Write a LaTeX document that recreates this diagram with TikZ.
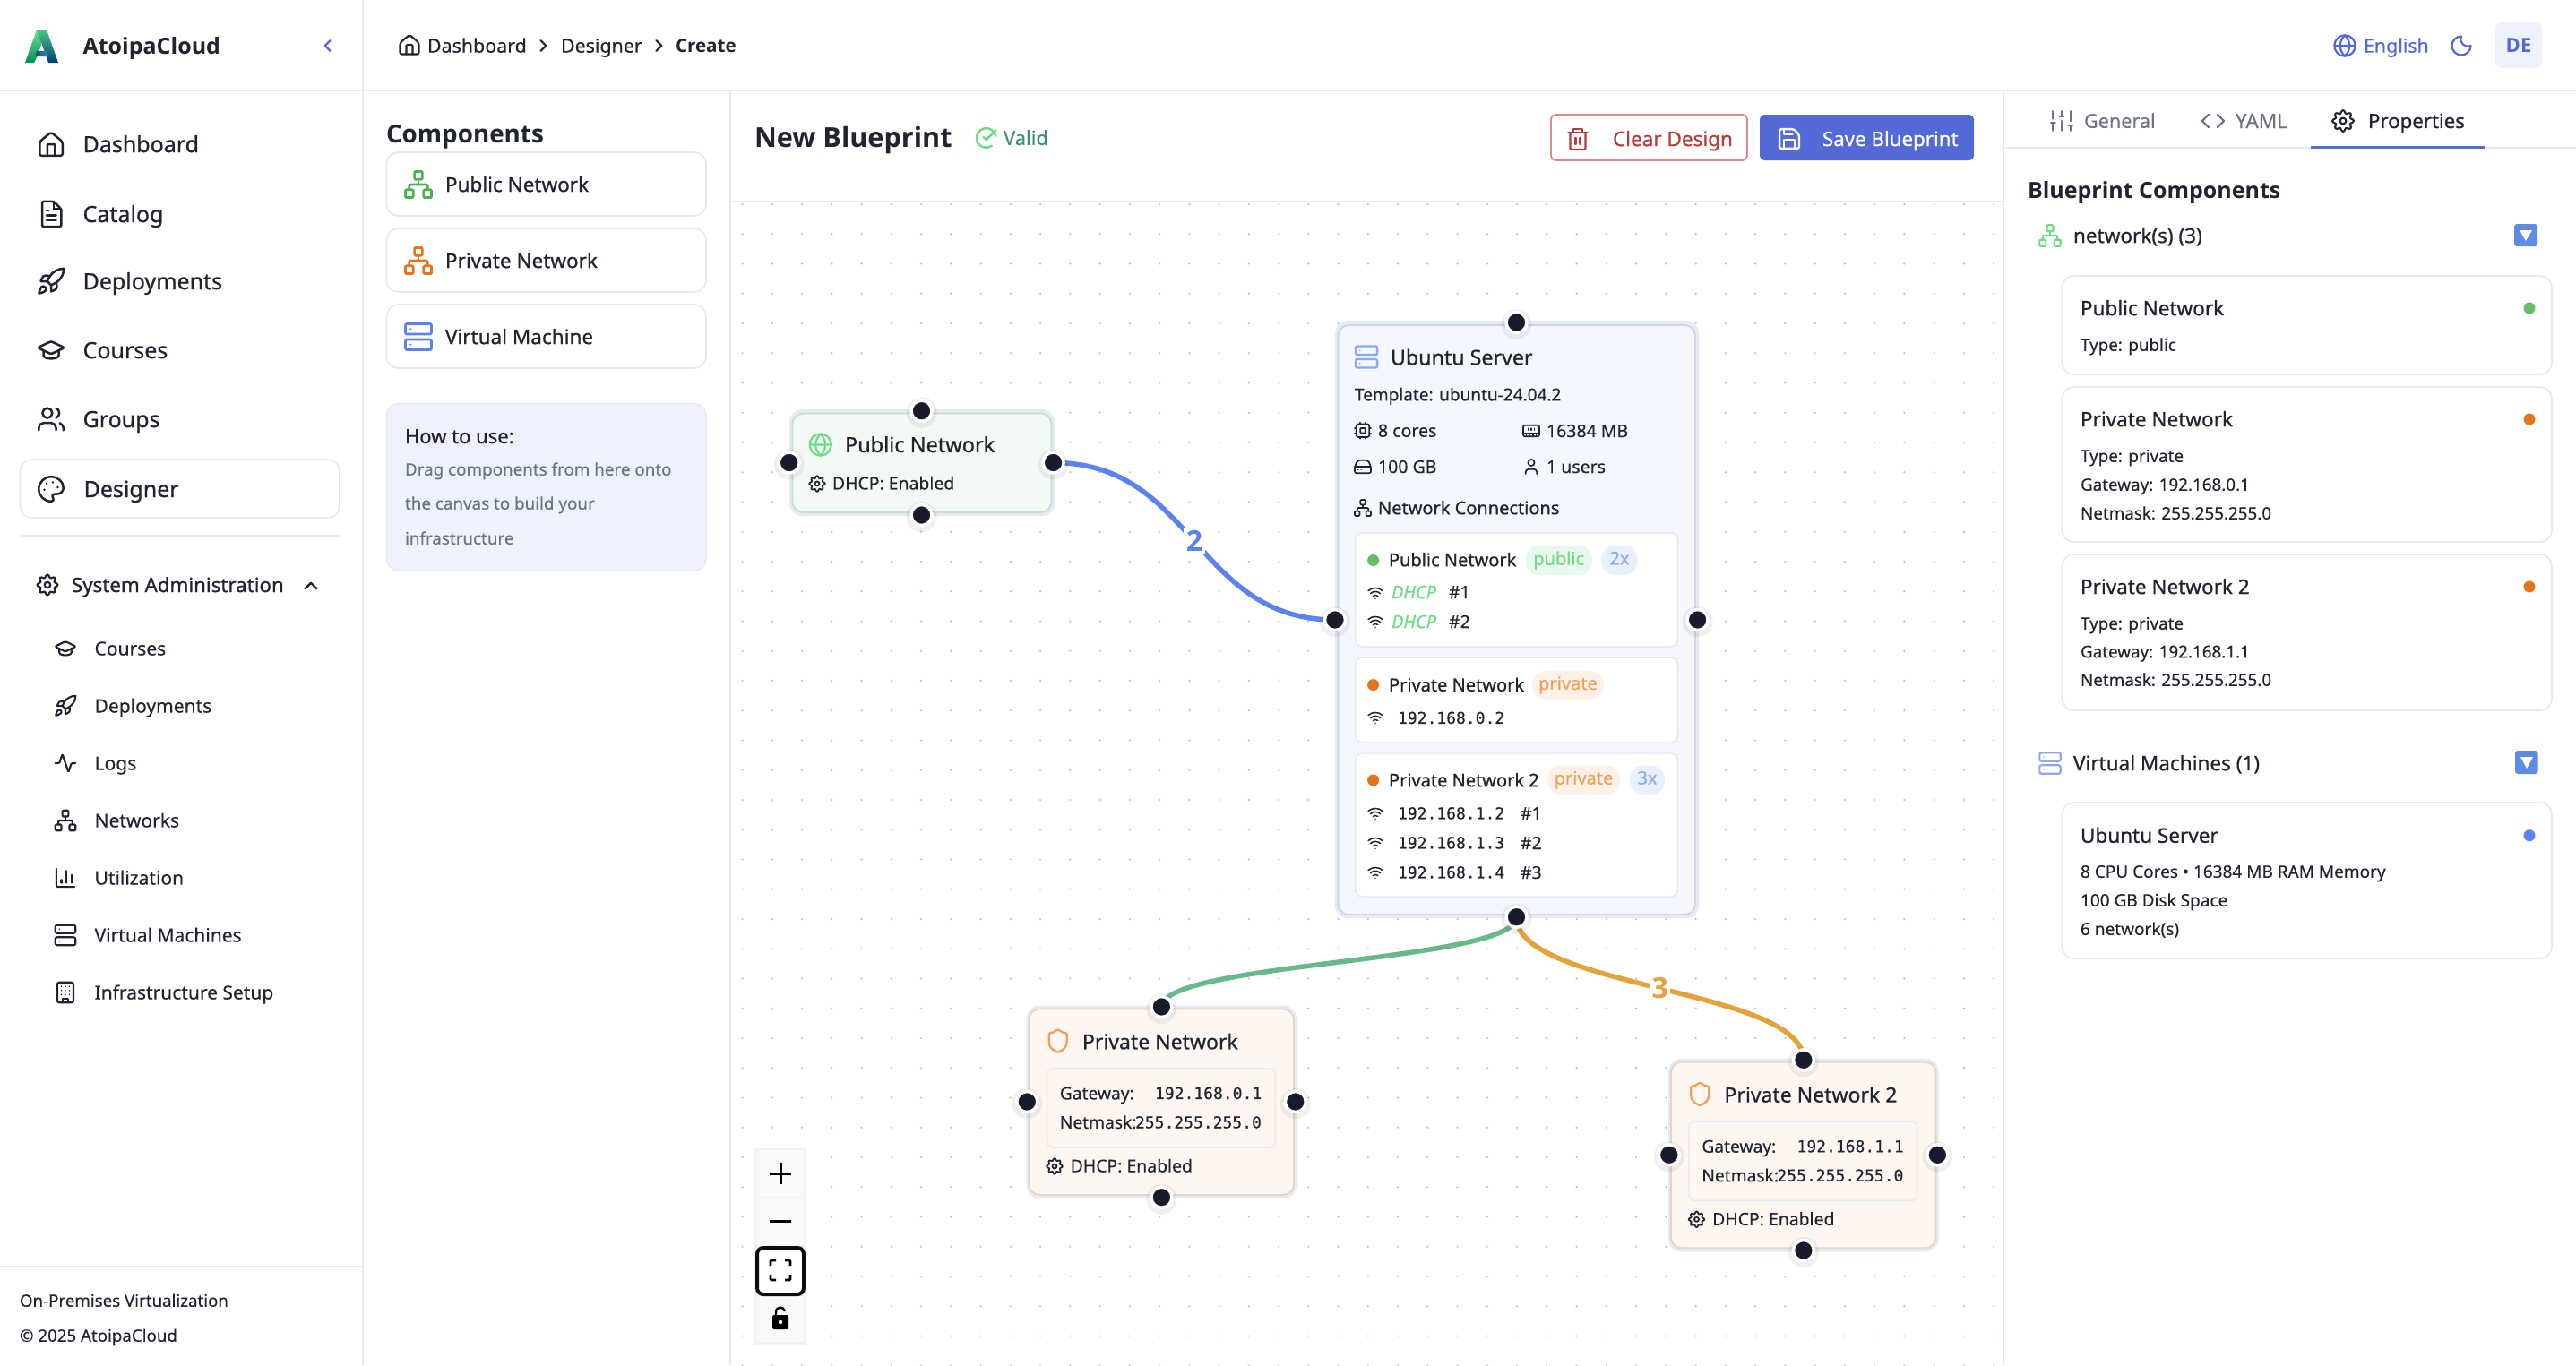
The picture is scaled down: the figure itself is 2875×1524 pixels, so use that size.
\documentclass[tikz,border=0pt]{standalone}
\usepackage{fontspec}
\usetikzlibrary{calc}
\setmainfont{Noto Sans}[FakeBold=0.15]
\newfontfamily\medf{Noto Sans}[FakeBold=0.7]
\newfontfamily\boldf{Open Sans}
\newfontfamily\monof{DejaVu Sans Mono}[FakeBold=0.3]
\definecolor{ink}{HTML}{1F2430}
\definecolor{navy}{HTML}{1A1A2E}
\definecolor{gtxt}{HTML}{6B7280}
\definecolor{line}{HTML}{E5E8EF}
\definecolor{brand}{HTML}{5369D6}
\definecolor{blueE}{HTML}{5B82EE}
\definecolor{greenI}{HTML}{4CAF50}
\definecolor{greenL}{HTML}{6FDB82}
\definecolor{orangeI}{HTML}{E8741A}
\definecolor{orangeL}{HTML}{F0A05A}
\definecolor{halo}{HTML}{E6EAF2}
\definecolor{dotc}{HTML}{BEC2CA}
\definecolor{ubfill}{HTML}{F4F7FE}
\definecolor{ubline}{HTML}{C9D6EE}
\definecolor{howfill}{HTML}{EEF2FC}
\definecolor{pubfill}{HTML}{F3FAF5}
\definecolor{publine}{HTML}{C8DFCC}
\definecolor{prvfill}{HTML}{FDF6F1}
\definecolor{prvline}{HTML}{E8D4C6}
\definecolor{pillG}{HTML}{E8F8EC}
\definecolor{pillB}{HTML}{E8EFFD}
\definecolor{pillO}{HTML}{FDF0E6}
\definecolor{redT}{HTML}{B83A3A}
\definecolor{redL}{HTML}{E08A85}
\definecolor{validT}{HTML}{3F8F6F}
\definecolor{edgeG}{HTML}{68B98A}
\definecolor{edgeO}{HTML}{E2A33A}
\definecolor{btnB}{HTML}{5F8AE6}
\pgfdeclarelayer{griddots}
\pgfdeclarelayer{edgelayer}
\pgfsetlayers{griddots,edgelayer,main}
\tikzset{
  txt/.style={inner sep=0pt,outer sep=0pt,anchor=base west,text=ink},
  panelbox/.style={inner sep=0pt,outer sep=0pt,draw=line,line width=1.6pt,fill=white,rounded corners=13pt},
  hdl/.style={circle,inner sep=0pt,minimum size=23pt,fill=navy,draw=white,line width=3.5pt},
  hdlshadow/.style={circle,inner sep=0pt,minimum size=34pt,fill=black,opacity=0.06},
  subcard/.style={inner sep=0pt,outer sep=0pt,draw=#1,line width=1.5pt,fill=white,rounded corners=8pt},
  pillbox/.style={inner sep=0pt,outer sep=0pt,fill=#1,rounded corners=15pt},
  edgeln/.style={line width=5.5pt},
  edgelbl/.style={font=\boldf\bfseries,fill=white,inner sep=2.5pt},
  bf/.style={font=\boldf\bfseries},
}
\newcommand\tx[6][]{\node[txt,#1] (#2) at (#3,{#4+0.36*#5}) {\fontsize{#5}{#5}\selectfont #6};}
\newcommand\bx[7][]{\node[minimum width={(#5-#3)*1pt},minimum height={(#6-#4)*1pt},#1] (#2) at ({(#3+#5)/2},{(#4+#6)/2}) {#7};}
\newcommand\hd[3]{\node[hdlshadow] at (#2,{#3+2}) {};\node[hdl] (#1) at (#2,#3) {};}
\newcommand\ic[6]{\pgfmathsetmacro\icu{#4/24}\begin{scope}[shift={(#2-#4/2,#3-#4/2)},x=\icu pt,y=-\icu pt,color=#5,line width=#6pt,line cap=round,line join=round]#1\end{scope}}
\newcommand\iHome{\draw[rounded corners=2pt] (3,10)--(12,2.5)--(21,10)--(21,21)--(3,21)--cycle; \draw[rounded corners=1pt] (9,21)--(9,12)--(15,12)--(15,21);}
\newcommand\iFile{\draw[rounded corners=2pt] (14,2)--(5,2)--(5,22)--(20,22)--(20,8)--cycle; \draw (14,2)--(14,8)--(20,8) (8.5,13)--(16,13) (8.5,17)--(16,17) (8.5,9)--(10,9);}
\newcommand\iRocket{\draw (4.5,16.5) .. controls (3,17.76) and (2.5,21.5) .. (2.5,21.5) .. controls (2.5,21.5) and (6.24,21) .. (7.5,19.5) .. controls (8.21,18.66) and (8.2,17.37) .. (7.41,16.59) .. controls (6.6,15.8) and (5.3,15.8) .. cycle; \draw (12,15)--(9,12) .. controls (9.5,10.6) and (10.2,9.3) .. (11,8.05) .. controls (13.2,4.5) and (17.8,2) .. (22,2) .. controls (22,4.72) and (21.22,9.5) .. (16,13) .. controls (14.8,13.8) and (13.4,14.5) .. (12,15) -- cycle; \draw (9,12)--(4,12) .. controls (4,12) and (4.55,8.97) .. (6,8) .. controls (7.62,6.92) and (11,8) .. (11,8); \draw (12,15)--(12,20) .. controls (12,20) and (15.03,19.45) .. (16,18) .. controls (17.08,16.38) and (16,13) .. (16,13);}
\newcommand\iCap{\draw[rounded corners=1.5pt] (1.5,10)--(12,5)--(22.5,10)--(12,15)--cycle; \draw (6,12.5)--(6,16) .. controls (6,19.5) and (18,19.5) .. (18,16)--(18,12.5);}
\newcommand\iUsers{\draw (9,7) circle[radius=4]; \draw (16,21)--(16,19) .. controls (16,16.8) and (14.2,15) .. (12,15)--(6,15) .. controls (3.8,15) and (2,16.8) .. (2,19)--(2,21); \draw (16,3.13) .. controls (19.5,4) and (19.5,10) .. (16,10.88); \draw (22,21)--(22,19) .. controls (22,17.2) and (20.8,16.3) .. (19,15.13);}
\newcommand\iPalette{\draw (12,22) arc[start angle=90,end angle=270,radius=10] arc[start angle=270,end angle=360,x radius=10,y radius=9] arc[start angle=0,end angle=90,radius=5] -- (14.75,16) .. controls (13.3,16) and (12.4,17.7) .. (13.35,18.8) -- (13.65,19.2) .. controls (14.6,20.4) and (13.7,22) .. (12.25,22) -- cycle; \fill (13.5,6.5) circle[radius=1] (17.5,10.5) circle[radius=1] (6.5,12.5) circle[radius=1] (8.5,7.5) circle[radius=1];}
\newcommand\iGear{\draw plot[smooth cycle,domain=0:352.5,samples=48] ({12+(9.1+1.5*cos(8*\x))*cos(\x)},{12+(9.1+1.5*cos(8*\x))*sin(\x)}); \draw (12,12) circle[radius=3];}
\newcommand\iNet{\draw[rounded corners=1pt] (16,16) rectangle (22,22) (2,16) rectangle (8,22) (9,2) rectangle (15,8); \draw[rounded corners=1.2pt] (5,16)--(5,12)--(19,12)--(19,16); \draw (12,12)--(12,8);}
\newcommand\iServer{\draw[rounded corners=2pt] (2,2) rectangle (22,10) (2,14) rectangle (22,22); \fill (6,6) circle[radius=.8] (6,18) circle[radius=.8];}
\newcommand\iGlobe{\draw (12,12) circle[radius=10] (2,12)--(22,12); \draw (12,2) .. controls (6,8) and (6,16) .. (12,22) .. controls (18,16) and (18,8) .. (12,2);}
\newcommand\iShield{\draw (20,13) .. controls (20,18) and (16.5,20.5) .. (12.34,21.95) .. controls (12.1,22) and (11.9,22) .. (11.67,21.94) .. controls (7.5,20.5) and (4,18) .. (4,13) -- (4,6) .. controls (4,5.4) and (4.4,5) .. (5,5) .. controls (7,5) and (9.5,3.8) .. (11.24,2.28) .. controls (11.7,1.9) and (12.3,1.9) .. (12.76,2.28) .. controls (14.51,3.81) and (17,5) .. (19,5) .. controls (19.6,5) and (20,5.4) .. (20,6) -- cycle;}
\newcommand\iPulse{\draw[rounded corners=1pt] (22,12)--(18,12)--(15,21)--(9,3)--(6,12)--(2,12);}
\newcommand\iChart{\draw[rounded corners=2pt] (3,3)--(3,21)--(21,21); \draw (18,17)--(18,9) (13,17)--(13,5) (8,17)--(8,14);}
\newcommand\iBuild{\draw[rounded corners=2pt] (4,2) rectangle (20,22); \draw (9,22)--(9,18)--(15,18)--(15,22); \fill (8,6) circle[radius=.8] (12,6) circle[radius=.8] (16,6) circle[radius=.8] (8,10) circle[radius=.8] (12,10) circle[radius=.8] (16,10) circle[radius=.8] (8,14) circle[radius=.8] (12,14) circle[radius=.8] (16,14) circle[radius=.8];}
\newcommand\iSliders{\draw (4,21)--(4,14) (4,10)--(4,3) (12,21)--(12,12) (12,8)--(12,3) (20,21)--(20,16) (20,12)--(20,3) (2,14)--(6,14) (10,8)--(14,8) (18,16)--(22,16);}
\newcommand\iCode{\draw (16,18)--(22,12)--(16,6) (8,6)--(2,12)--(8,18);}
\newcommand\iMoon{\draw (12,3) arc[start angle=270,end angle=0,radius=9] .. controls (16.5,15) and (9,9) .. (12,3) -- cycle;}
\newcommand\iCheck{\draw (21.8,10) arc[start angle=-11.5,end angle=-305,radius=10]; \draw (9,11)--(12,14)--(22,4);}
\newcommand\iTrash{\draw (3,6)--(21,6) (8,6)--(8,3)--(16,3)--(16,6) (10,11)--(10,17) (14,11)--(14,17); \draw[rounded corners=2pt] (5,6)--(5,22)--(19,22)--(19,6);}
\newcommand\iSave{\draw[rounded corners=1.5pt] (3,3)--(16,3)--(21,8)--(21,21)--(3,21)--cycle; \draw (17,21)--(17,13)--(7,13)--(7,21) (7,3)--(7,8)--(15,8);}
\newcommand\iCpu{\draw[rounded corners=2pt] (4,4) rectangle (20,20); \draw[rounded corners=.5pt] (9,9) rectangle (15,15); \draw (15,2)--(15,4) (15,20)--(15,22) (2,15)--(4,15) (2,9)--(4,9) (20,15)--(22,15) (20,9)--(22,9) (9,2)--(9,4) (9,20)--(9,22);}
\newcommand\iMem{\draw[rounded corners=2pt] (2,5) rectangle (22,19); \draw (2,15)--(22,15) (6,19)--(6,16) (10,19)--(10,16) (14,19)--(14,16) (18,19)--(18,16) (8,11)--(8,9) (12,11)--(12,9) (16,11)--(16,9);}
\newcommand\iDisk{\draw[rounded corners=2pt] (2,12)--(5.5,4)--(18.5,4)--(22,12)--(22,20)--(2,20)--cycle; \draw (2,12)--(22,12) (6,16)--(6.01,16) (10,16)--(10.01,16);}
\newcommand\iUser{\draw (12,7) circle[radius=4]; \draw (19,21)--(19,19) .. controls (19,16.8) and (17.2,15) .. (15,15)--(9,15) .. controls (6.8,15) and (5,16.8) .. (5,19)--(5,21);}
\newcommand\iWifi{\draw (2,8.82) .. controls (7.7,3.7) and (16.3,3.7) .. (22,8.82) (5,12.86) .. controls (9,9) and (15,9) .. (19,12.86) (8.5,16.43) .. controls (10.5,14.5) and (13.5,14.5) .. (15.5,16.43) (12,20)--(12.01,20);}
\newcommand\iChevL{\draw (15,5)--(8,12)--(15,19);}
\newcommand\iChevR{\draw (9,5)--(16,12)--(9,19);}
\newcommand\iChevU{\draw (5,15.5)--(12,8.5)--(19,15.5);}
\begin{document}
\begin{tikzpicture}[x=1pt,y=-1pt,line cap=butt]
\useasboundingbox (0,0) rectangle (2875,1524);
% ---- canvas dots
\begin{pgfonlayer}{griddots}
\fill[white] (0,0) rectangle (2875,1524);
\fill[dotc] \foreach \i in {0,...,42} { \foreach \j in {0,...,39} { ({828.6+33.25*\i},{228+33.25*\j}) circle[radius=1.15pt] } };
\end{pgfonlayer}
% ---- frame lines
\draw[line,line width=1.6pt] (405,0)--(405,1524);
\draw[line,line width=1.6pt] (0,101.5)--(2875,101.5);
\draw[line,line width=1.6pt] (0,1414)--(405,1414);
\draw[line,line width=1.6pt] (815,101.5)--(815,1524);
\draw[line,line width=1.6pt] (815,224.5)--(2236,224.5);
\draw[line,line width=1.6pt] (2236,101.5)--(2236,1524);
\draw[line,line width=2.5pt] (2236,165)--(2875,165);
\draw[brand,line width=3.5pt] (2579,164.5)--(2773,164.5);
% ---- logo
\path[shade,top color=green!55!teal!55!white,bottom color=teal!75!green!90!black] (41,33)--(52,33)--(42,62)--(38,70)--(28,70)--cycle;
\path[shade,top color=teal!60!green!70,bottom color=blue!30!teal!70!black] (41,33)--(52,33)--(65,70)--(54,70)--cycle;
\path[shade,left color=teal!70!black,right color=blue!40!teal!70] (41,57)--(52,57)--(54,63)--(39,63)--cycle;
\tx[bf]{brandname}{92.6}{51}{25}{AtoipaCloud}
\ic{\iChevL}{366}{51}{20}{brand}{2.3}
% ---- sidebar
\bx[panelbox]{navsel}{22.5}{513}{379}{578}{}
\draw[line,line width=1.5pt] (22.5,598)--(379,598);
\ic{\iHome}{57}{161}{34}{ink}{2.5}\tx[font=\medf]{navA}{92.6}{161}{25}{Dashboard}
\ic{\iFile}{57}{239}{34}{ink}{2.5}\tx[font=\medf]{navB}{92.6}{239}{25}{Catalog}
\ic{\iRocket}{57}{314}{34}{ink}{2.5}\tx[font=\medf]{navC}{92.6}{314}{25}{Deployments}
\ic{\iCap}{57}{391}{34}{ink}{2.5}\tx[font=\medf]{navD}{92.6}{391}{25}{Courses}
\ic{\iUsers}{57}{468}{33}{ink}{2.5}\tx[font=\medf]{navE}{92.6}{468}{25}{Groups}
\ic{\iPalette}{57}{546}{33}{ink}{2.5}\tx[font=\medf]{navF}{93.6}{546}{25}{Designer}
\ic{\iGear}{53}{653}{26}{ink}{2.2}\tx[font=\medf]{navG}{80}{653}{22.3}{System Administration}
\ic{\iChevU}{347}{654}{22}{ink}{2.4}
\ic{\iCap}{73}{724}{27}{ink}{2.1}\tx{subA}{105.6}{724}{21}{Courses}
\ic{\iRocket}{73}{788}{27}{ink}{2.1}\tx{subB}{105.6}{788}{21}{Deployments}
\ic{\iPulse}{73}{852}{27}{ink}{2.1}\tx{subC}{105.6}{852}{21}{Logs}
\ic{\iNet}{73}{916}{27}{ink}{2.1}\tx{subD}{105.6}{916}{21}{Networks}
\ic{\iChart}{73}{980}{27}{ink}{2.1}\tx{subE}{105.6}{980}{21}{Utilization}
\ic{\iServer}{73}{1044}{27}{ink}{2.1}\tx{subF}{105.6}{1044}{21}{Virtual Machines}
\ic{\iBuild}{73}{1108}{27}{ink}{2.1}\tx{subG}{105.6}{1108}{21}{Infrastructure Setup}
\tx{footA}{22}{1452}{18.7}{On-Premises Virtualization}
\tx{footB}{22}{1491}{18.7}{© 2025 AtoipaCloud}
% ---- breadcrumb
\ic{\iHome}{457}{50}{28}{ink}{2.1}\tx{crA}{477}{51}{21.4}{Dashboard}
\ic{\iChevR}{606}{51}{20}{ink}{2.2}\tx{crB}{626}{51}{21.4}{Designer}
\ic{\iChevR}{735}{51}{20}{ink}{2.2}\tx[bf]{crC}{754}{51}{20.6}{Create}
% ---- components
\tx[bf]{compT}{431}{149}{27.8}{Components}
\bx[panelbox]{cardA}{431.5}{170}{788}{241}{}
\bx[panelbox]{cardB}{431.5}{255}{788}{326}{}
\bx[panelbox]{cardC}{431.5}{340}{788}{411}{}
\ic{\iNet}{467}{206}{35}{greenI}{2.7}\tx[font=\medf]{cardAt}{497}{206}{22.5}{Public Network}
\ic{\iNet}{467}{291}{35}{orangeI}{2.7}\tx[font=\medf]{cardBt}{497}{291}{22.5}{Private Network}
\ic{\iServer}{467}{376}{35}{blueE}{2.7}\tx[font=\medf]{cardCt}{497}{376}{22.5}{Virtual Machine}
\bx[inner sep=0pt,fill=howfill,draw=line,line width=1.2pt,rounded corners=13pt]{howto}{431.5}{450.5}{788}{637}{}
\tx[font=\medf]{howT}{452}{487}{22}{How to use:}
\tx[text=gtxt]{howA}{452}{524}{18.8}{Drag components from here onto}
\tx[text=gtxt]{howB}{452}{562}{18.8}{the canvas to build your}
\tx[text=gtxt]{howC}{452}{601}{18.8}{infrastructure}
% ---- title bar
\tx[bf]{title}{842}{153}{30.6}{New Blueprint}
\ic{\iCheck}{1100.7}{154}{26}{greenL}{2.4}
\tx[text=validT]{valid}{1120}{154}{22}{Valid}
\bx[inner sep=0pt,draw=redL,fill=white,line width=1.8pt,rounded corners=5pt]{clr}{1731}{128}{1950}{179}{}
\ic{\iTrash}{1761}{155}{29}{redT}{2.3}
\tx[font=\medf,text=redT]{clrT}{1800}{155}{22.5}{Clear Design}
\bx[inner sep=0pt,fill=brand,rounded corners=5pt]{sav}{1964}{128}{2203}{179}{}
\ic{\iSave}{1997}{155}{29}{white}{2.3}
\tx[font=\medf,text=white]{savT}{2034}{155}{22.3}{Save Blueprint}
% ---- top right
\ic{\iGlobe}{2617}{51}{28}{brand}{2.2}\tx[text=brand]{lang}{2638}{51}{21.4}{English}
\ic{\iMoon}{2747}{51}{28}{brand}{2.2}
\bx[inner sep=0pt,fill=howfill,rounded corners=7pt]{debox}{2785}{25}{2837}{76}{}
\tx[bf,text=brand,anchor=base]{deT}{2811}{51}{22}{DE}
% ---- tabs
\ic{\iSliders}{2301}{135}{29}{gtxt}{2.1}\tx[text=gtxt]{tabA}{2326}{135}{21.6}{General}
\ic{\iCode}{2470}{135}{29}{gtxt}{2.1}\tx[text=gtxt]{tabB}{2495}{135}{22.5}{YAML}
\ic{\iGear}{2615}{135}{27}{ink}{2.1}\tx[font=\medf]{tabC}{2643}{135}{22.2}{Properties}
% ---- right panel
\tx[bf]{bpT}{2263}{212}{25}{Blueprint Components}
\ic{\iNet}{2288}{263}{28}{greenL}{2.2}\tx[font=\medf]{bpN}{2314}{263}{22.5}{network(s) (3)}
\bx[inner sep=0pt,fill=btnB,rounded corners=3pt]{btnA}{2806}{250}{2832}{275}{}
\fill[white] (2812,257)--(2826,257)--(2819,269)--cycle;
\bx[panelbox]{rA}{2301.5}{308}{2848}{418}{}
\bx[panelbox]{rB}{2301.5}{432}{2848}{605}{}
\bx[panelbox]{rC}{2301.5}{619}{2848}{793}{}
\bx[panelbox]{rD}{2301.5}{896}{2848}{1070}{}
\tx[font=\medf]{rAt}{2322}{344}{22.5}{Public Network}
\tx{rAa}{2322}{385}{18.8}{Type: public}
\fill[greenI!85!white] (2823,344) circle[radius=6.5pt];
\tx[font=\medf]{rBt}{2322}{468}{22.5}{Private Network}
\tx{rBa}{2322}{509}{18.8}{Type: private}
\tx{rBb}{2322}{541}{18.8}{Gateway: 192.168.0.1}
\tx{rBc}{2322}{573}{18.8}{Netmask: 255.255.255.0}
\fill[orangeI] (2823,468) circle[radius=6.5pt];
\tx[font=\medf]{rCt}{2322}{655}{22.5}{Private Network 2}
\tx{rCa}{2322}{696}{18.8}{Type: private}
\tx{rCb}{2322}{727.5}{18.8}{Gateway: 192.168.1.1}
\tx{rCc}{2322}{759}{18.8}{Netmask: 255.255.255.0}
\fill[orangeI] (2823,655) circle[radius=6.5pt];
\ic{\iServer}{2288}{852}{28}{blueE!70!white}{2.2}\tx[font=\medf]{bpV}{2314}{852}{22.5}{Virtual Machines (1)}
\bx[inner sep=0pt,fill=btnB,rounded corners=3pt]{btnBb}{2807}{838}{2832.5}{864}{}
\fill[white] (2813,845)--(2827,845)--(2820,858)--cycle;
\tx[font=\medf]{rDt}{2322}{932.7}{22.5}{Ubuntu Server}
\tx{rDa}{2322}{973}{19}{8 CPU Cores • 16384 MB RAM Memory}
\tx{rDb}{2322}{1005}{19}{100 GB Disk Space}
\tx{rDc}{2322}{1037}{19}{6 network(s)}
\fill[blueE] (2823,932.7) circle[radius=6.5pt];
% ---- Public Network node
\bx[inner sep=0pt,fill=halo,rounded corners=14pt]{pubH}{881}{457}{1177}{576}{}
\bx[inner sep=0pt,fill=pubfill,draw=publine,line width=1.8pt,rounded corners=12pt]{pubB}{884.5}{461.5}{1173.5}{572}{}
\ic{\iGlobe}{915.7}{496.5}{29}{greenL}{2.2}
\tx[font=\medf]{pubTt}{943}{496.5}{23.5}{Public Network}
\ic{\iGear}{912}{540}{20}{ink}{1.8}
\tx{pubDh}{929}{539.5}{19.4}{DHCP: Enabled}
\hd{pubT}{1028.5}{458.7}\hd{pubL}{880.7}{516.5}\hd{pubR}{1175.6}{516.5}\hd{pubD}{1028.5}{575}
% ---- Ubuntu node
\bx[inner sep=0pt,fill=halo,rounded corners=14pt]{ubH}{1490}{358}{1896}{1025}{}
\bx[inner sep=0pt,fill=ubfill,draw=ubline,line width=1.8pt,rounded corners=12pt]{ubB}{1493.5}{363}{1892}{1021}{}
\ic{\iServer}{1525}{398.5}{29}{blueE!70!white}{2.3}
\tx[font=\medf]{ubTt}{1552}{399}{23.2}{Ubuntu Server}
\tx{ubTp}{1512}{440.5}{19}{Template: ubuntu-24.04.2}
\ic{\iCpu}{1521}{480.7}{21.6}{ink}{1.7}\tx{ubC}{1538}{480.7}{19.5}{8 cores}
\ic{\iMem}{1709}{481}{21.6}{ink}{1.7}\tx{ubM}{1726}{481}{19.5}{16384 MB}
\ic{\iDisk}{1521}{521}{21.6}{ink}{1.7}\tx{ubD}{1538}{521}{19.5}{100 GB}
\ic{\iUser}{1709}{521}{21.6}{ink}{1.7}\tx{ubU}{1726}{521}{19.5}{1 users}
\ic{\iNet}{1521}{567}{21.6}{ink}{1.7}\tx[font=\medf]{ubNc}{1538}{567}{20}{Network Connections}
\bx[subcard=line]{scA}{1512.6}{595}{1872.5}{722}{}
\bx[subcard=line]{scB}{1512.6}{734}{1872.5}{829}{}
\bx[subcard=line]{scC}{1512.6}{841}{1872.5}{1001}{}
\fill[greenI!85!white] (1532.6,625.5) circle[radius=6.5pt];
\tx[font=\medf]{scAt}{1550}{625}{20}{Public Network}
\bx[pillbox=pillG]{pA}{1702.5}{609}{1777}{642}{\fontsize{20}{20}\selectfont\color{greenL}\vphantom{Ap}public}
\bx[pillbox=pillB]{pB}{1787.5}{609}{1827.5}{642}{\fontsize{20}{20}\selectfont\color{blueE!70!white}\vphantom{Ap}2x}
\ic{\iWifi}{1535}{662}{19}{ink}{1.5}\tx[font=\itshape,text=greenL]{dhA}{1553}{661}{20}{DHCP}\tx{dhAn}{1617}{661}{19.5}{\#1}
\ic{\iWifi}{1535}{694}{19}{ink}{1.5}\tx[font=\itshape,text=greenL]{dhB}{1553}{694}{20}{DHCP}\tx{dhBn}{1617}{694}{19.5}{\#2}
\fill[orangeI] (1532.6,764.6) circle[radius=6.5pt];
\tx[font=\medf]{scBt}{1550}{764.6}{20}{Private Network}
\bx[pillbox=pillO]{pC}{1710}{749}{1790}{781}{\fontsize{20}{20}\selectfont\color{orangeL}\vphantom{Ap}private}
\ic{\iWifi}{1535}{801}{19}{ink}{1.5}\tx[font=\monof]{ipA}{1560}{801.5}{18}{192.168.0.2}
\fill[orangeI] (1532.6,871) circle[radius=6.5pt];
\tx[font=\medf]{scCt}{1550}{871}{20}{Private Network 2}
\bx[pillbox=pillO]{pD}{1727}{854.5}{1808}{887}{\fontsize{20}{20}\selectfont\color{orangeL}\vphantom{Ap}private}
\bx[pillbox=pillB]{pE}{1819}{854.5}{1858}{887}{\fontsize{20}{20}\selectfont\color{blueE!70!white}\vphantom{Ap}3x}
\ic{\iWifi}{1535}{908}{19}{ink}{1.5}\tx[font=\monof]{ipB}{1560}{908}{18}{192.168.1.2}\tx{ipBn}{1697}{908}{19.5}{\#1}
\ic{\iWifi}{1535}{941}{19}{ink}{1.5}\tx[font=\monof]{ipC}{1560}{941}{18}{192.168.1.3}\tx{ipCn}{1697}{941}{19.5}{\#2}
\ic{\iWifi}{1535}{974}{19}{ink}{1.5}\tx[font=\monof]{ipD}{1560}{974}{18}{192.168.1.4}\tx{ipDn}{1697}{974}{19.5}{\#3}
\hd{ubT}{1692.5}{360}\hd{ubL}{1490}{692}\hd{ubR}{1894.6}{692}\hd{ubD}{1692.5}{1023.7}
% ---- Private Network nodes
\foreach \p/\dx/\dy/\nm/\gw in {pa/0/0/Private Network/192.168.0.1,pb/716.5/59.3/Private Network 2/192.168.1.1}{
 \begin{scope}[shift={(\dx,\dy)}]
 \bx[inner sep=0pt,fill=halo,rounded corners=14pt]{\p H}{1145.6}{1122.6}{1447}{1338}{}
 \bx[inner sep=0pt,fill=prvfill,draw=prvline,line width=1.8pt,rounded corners=12pt]{\p B}{1148.5}{1126.5}{1444}{1334}{}
 \ic{\iShield}{1180.7}{1162}{30}{orangeL}{2.3}
 \tx[font=\medf]{\p Tt}{1208}{1163}{23}{\nm}
 \bx[inner sep=0pt,fill=prvfill,draw=halo,line width=1.5pt,rounded corners=6pt]{\p In}{1168.7}{1192.7}{1423.4}{1281}{}
 \tx{\p Gw}{1182.8}{1220.5}{19.2}{Gateway:}
 \tx[font=\monof]{\p GwV}{1289}{1220.5}{18}{\gw}
 \tx{\p Nm}{1182.8}{1253}{19.2}{Netmask:}
 \tx[font=\monof]{\p NmV}{1267}{1253}{18}{255.255.255.0}
 \ic{\iGear}{1177}{1302}{20}{ink}{1.8}
 \tx{\p Dh}{1194.7}{1301.6}{19.4}{DHCP: Enabled}
 \hd{\p T}{1296.4}{1124}\hd{\p L}{1146.3}{1230}\hd{\p R}{1445.8}{1230}\hd{\p D}{1296.4}{1336.7}
 \end{scope}
}
% ---- edges
\begin{pgfonlayer}{edgelayer}
\draw[edgeln,blueE] (pubR.center) .. controls (1333,516.5) and (1333,692) .. (ubL.center)
  node[pos=0.5,edgelbl,text=blueE] (lbl2) {\fontsize{32}{32}\selectfont 2};
\draw[edgeln,edgeG] (ubD.center) .. controls (1692.5,1074) and (1296.4,1074) .. (paT.center);
\draw[edgeln,edgeO] (ubD.center) .. controls (1692.5,1103.5) and (2012.9,1103.5) .. (pbT.center)
  node[pos=0.5,edgelbl,text=edgeO] (lbl3) {\fontsize{32}{32}\selectfont 3};
\end{pgfonlayer}
% ---- flow controls
\fill[black,opacity=0.05] (842,1282) rectangle (900,1502);
\bx[inner sep=0pt,fill=white!98!black]{ctA}{845}{1284}{897}{1336}{}
\bx[inner sep=0pt,fill=white!98!black]{ctB}{845}{1338}{897}{1390}{}
\bx[inner sep=0pt,fill=white!98!black]{ctD}{845}{1447}{897}{1498}{}
\bx[inner sep=0pt,fill=white,draw=black!95,line width=4pt,rounded corners=7pt]{ctC}{845}{1393}{897}{1445}{}
\draw[black,line width=3pt] (859,1310)--(883,1310) (871,1298)--(871,1322) (859,1363)--(883,1363);
\draw[black,line width=2.6pt,rounded corners=1pt] (860,1413)--(860,1407)--(866,1407) (876,1407)--(882,1407)--(882,1413) (882,1423)--(882,1429)--(876,1429) (866,1429)--(860,1429)--(860,1423);
\fill[black,rounded corners=2pt] (862,1468) rectangle (880,1484);
\draw[black,line width=2.4pt] (866,1468)--(866,1465) .. controls (866,1458) and (875,1458) .. (876,1464);
\fill[white] (871,1476) circle[radius=2.2pt];
\end{tikzpicture}
\end{document}
